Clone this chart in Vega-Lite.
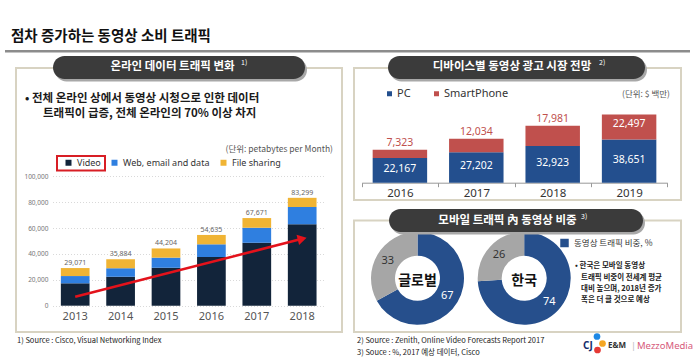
{
  "$schema": "https://vega.github.io/schema/vega-lite/v6.json",
  "width": 700,
  "height": 361,
  "autosize": {"type": "none"},
  "padding": 0,
  "background": "#ffffff",
  "config": {"view": {"stroke": null}, "font": "Noto Sans CJK KR"},
  "datasets": {
    "traffic": [
      {"year": "2013", "type": "Video", "value": 17300},
      {"year": "2013", "type": "Web, email and data", "value": 5600},
      {"year": "2013", "type": "File sharing", "value": 6171},
      {"year": "2014", "type": "Video", "value": 22400},
      {"year": "2014", "type": "Web, email and data", "value": 6500},
      {"year": "2014", "type": "File sharing", "value": 6984},
      {"year": "2015", "type": "Video", "value": 29300},
      {"year": "2015", "type": "Web, email and data", "value": 7800},
      {"year": "2015", "type": "File sharing", "value": 7104},
      {"year": "2016", "type": "Video", "value": 37600},
      {"year": "2016", "type": "Web, email and data", "value": 9800},
      {"year": "2016", "type": "File sharing", "value": 7235},
      {"year": "2017", "type": "Video", "value": 48600},
      {"year": "2017", "type": "Web, email and data", "value": 11600},
      {"year": "2017", "type": "File sharing", "value": 7471},
      {"year": "2018", "type": "Video", "value": 62900},
      {"year": "2018", "type": "Web, email and data", "value": 13300},
      {"year": "2018", "type": "File sharing", "value": 7099}
    ],
    "arrow": [
      {"year": "2013", "value": 6900},
      {"year": "2018", "value": 51650}
    ],
    "adMarket": [
      {"year": "2016", "device": "PC", "value": 22167},
      {"year": "2016", "device": "SmartPhone", "value": 7323},
      {"year": "2017", "device": "PC", "value": 27202},
      {"year": "2017", "device": "SmartPhone", "value": 12034},
      {"year": "2018", "device": "PC", "value": 32923},
      {"year": "2018", "device": "SmartPhone", "value": 17981},
      {"year": "2019", "device": "PC", "value": 38651},
      {"year": "2019", "device": "SmartPhone", "value": 22497}
    ],
    "mobileShare": [
      {"region": "글로벌", "cat": "동영상 트래픽 비중, %", "value": 67},
      {"region": "글로벌", "cat": "기타", "value": 33},
      {"region": "한국", "cat": "동영상 트래픽 비중, %", "value": 74},
      {"region": "한국", "cat": "기타", "value": 26}
    ]
  },
  "layer": [
    {"data": {"values": [{}]}, "mark": {"type": "rect", "x": 16, "x2": 342, "y": 68, "y2": 332, "fill": null, "stroke": "#d8d3c2", "strokeWidth": 2}, "encoding": {}},
    {"data": {"values": [{}]}, "mark": {"type": "rect", "x": 354, "x2": 681, "y": 68, "y2": 200, "fill": null, "stroke": "#d8d3c2", "strokeWidth": 2}, "encoding": {}},
    {"data": {"values": [{}]}, "mark": {"type": "rect", "x": 354, "x2": 681, "y": 220.5, "y2": 332, "fill": null, "stroke": "#d8d3c2", "strokeWidth": 2}, "encoding": {}},
    {"data": {"values": [{}]}, "mark": {"type": "rect", "x": 5, "x2": 690, "y": 50, "y2": 52.5, "fill": "#8c8c8c"}, "encoding": {}},
    {"data": {"values": [{"t": "점차 증가하는 동영상 소비 트래픽"}]}, "mark": {"type": "text", "x": 11, "y": 37, "align": "left", "baseline": "middle", "fontSize": 14.5, "fontWeight": "bold", "color": "#111111"}, "encoding": {"text": {"field": "t"}}},

    {
      "data": {"name": "traffic"},
      "layer": [
        {
          "transform": [{"calculate": "indexof(['Video','Web, email and data','File sharing'], datum.type)", "as": "k"}],
          "mark": {"type": "bar"},
          "encoding": {
            "x": {"field": "year", "type": "ordinal", "title": null,
              "scale": {"range": [52.5, 324.9], "paddingInner": 0.368, "paddingOuter": 0.184},
              "axis": {"orient": "bottom", "offset": -55.3, "zindex": 1, "labelAngle": 0, "domain": false, "ticks": false, "tickSize": 0, "labelPadding": 5, "labelFontSize": 11, "labelColor": "#555555", "labelFont": "Noto Sans"}},
            "y": {"field": "value", "type": "quantitative", "stack": "zero", "title": null,
              "scale": {"domain": [0, 100000], "range": [305.7, 176.2], "nice": false},
              "axis": {"orient": "left", "offset": -50, "values": [0, 20000, 40000, 60000, 80000, 100000], "labelExpr": "format(datum.value, ',')", "domain": false, "ticks": false, "tickSize": 0, "labelPadding": 2, "labelFontSize": 6.5, "labelColor": "#777777", "labelFont": "Noto Sans", "grid": true, "gridColor": "#d9d9d9", "gridDash": [1, 2]}},
            "color": {"field": "type", "type": "nominal",
              "scale": {"domain": ["Video", "Web, email and data", "File sharing"], "range": ["#12243a", "#2f7fe0", "#f0b434"]},
              "legend": {"orient": "none", "legendX": 64, "legendY": 158, "direction": "horizontal", "title": null, "symbolType": "square", "symbolSize": 36, "symbolStrokeWidth": 0, "labelFontSize": 9, "labelColor": "#333333", "labelFont": "Noto Sans", "labelOffset": 4, "columnPadding": 9, "padding": 0}},
            "order": {"field": "k", "type": "quantitative"}
          }
        },
        {
          "mark": {"type": "text", "baseline": "alphabetic", "dy": -3, "fontSize": 7, "color": "#666666", "font": "Noto Sans"},
          "encoding": {
            "x": {"field": "year", "type": "ordinal", "title": null},
            "y": {"aggregate": "sum", "field": "value", "type": "quantitative", "title": null},
            "text": {"aggregate": "sum", "field": "value", "type": "quantitative", "format": ","}
          }
        },
        {
          "data": {"name": "arrow"},
          "mark": {"type": "line", "color": "#e3121b", "strokeWidth": 2.5},
          "encoding": {
            "x": {"field": "year", "type": "ordinal", "title": null},
            "y": {"field": "value", "type": "quantitative", "title": null}
          }
        },
        {
          "data": {"name": "arrow"},
          "transform": [{"filter": "datum.year === '2018'"}],
          "mark": {"type": "point", "shape": "triangle-right", "filled": true, "color": "#e3121b", "size": 110, "angle": 345.7, "opacity": 1},
          "encoding": {
            "x": {"field": "year", "type": "ordinal", "title": null},
            "y": {"field": "value", "type": "quantitative", "title": null}
          }
        }
      ]
    },

    {
      "data": {"name": "adMarket"},
      "encoding": {
        "x": {"field": "year", "type": "ordinal", "title": null,
          "scale": {"range": [361.7, 667.3], "paddingInner": 0, "paddingOuter": 0},
          "axis": {"orient": "bottom", "offset": -178.3, "labelAngle": 0, "tickBand": "extent", "tickSize": 4, "tickColor": "#999999", "domainColor": "#999999", "labelPadding": 1, "labelFontSize": 11.5, "labelColor": "#333333", "labelFont": "Noto Sans"}}
      },
      "layer": [
        {
          "mark": {"type": "bar", "width": {"band": 0.713}},
          "encoding": {
            "y": {"field": "value", "type": "quantitative", "stack": "zero", "title": null,
              "scale": {"domain": [0, 70000], "range": [182.7, 104.5], "nice": false}, "axis": null},
            "color": {"field": "device", "type": "nominal",
              "scale": {"domain": ["PC", "SmartPhone"], "range": ["#234f8e", "#c0504d"]},
              "legend": {"orient": "none", "legendX": 384, "legendY": 88, "direction": "horizontal", "title": null, "symbolType": "square", "symbolSize": 25, "symbolStrokeWidth": 0, "labelFontSize": 11, "labelColor": "#333333", "labelFont": "Noto Sans", "labelOffset": 2, "columnPadding": 20, "padding": 0}},
            "order": {"field": "device", "sort": "ascending"}
          }
        },
        {
          "transform": [{"filter": "datum.device === 'PC'"}],
          "mark": {"type": "text", "color": "#ffffff", "fontSize": 10.5, "font": "Noto Sans", "baseline": "middle", "dy": -1.5},
          "encoding": {
            "y": {"field": "value", "type": "quantitative", "stack": "zero", "bandPosition": 0.5, "title": null},
            "text": {"field": "value", "type": "quantitative", "format": ","}
          }
        },
        {
          "transform": [
            {"stack": "value", "groupby": ["year"], "sort": [{"field": "device", "order": "ascending"}], "as": ["v0", "v1"]},
            {"filter": "datum.device === 'SmartPhone' && datum.year !== '2019'"}
          ],
          "mark": {"type": "text", "color": "#c0504d", "fontSize": 10.5, "font": "Noto Sans", "baseline": "alphabetic", "dy": -4},
          "encoding": {
            "y": {"field": "v1", "type": "quantitative", "title": null},
            "text": {"field": "value", "type": "quantitative", "format": ","}
          }
        },
        {
          "transform": [
            {"stack": "value", "groupby": ["year"], "sort": [{"field": "device", "order": "ascending"}], "as": ["v0", "v1"]},
            {"filter": "datum.device === 'SmartPhone' && datum.year === '2019'"}
          ],
          "mark": {"type": "text", "color": "#ffffff", "fontSize": 10.5, "font": "Noto Sans", "baseline": "alphabetic", "dy": 13},
          "encoding": {
            "y": {"field": "v1", "type": "quantitative", "title": null},
            "text": {"field": "value", "type": "quantitative", "format": ","}
          }
        }
      ]
    },

    {
      "data": {"name": "mobileShare"},
      "encoding": {
        "x": {"field": "region", "type": "nominal", "scale": {"type": "point", "domain": ["글로벌", "한국"], "range": [417.5, 524.2], "padding": 0}, "axis": null},
        "y": {"field": "region", "type": "nominal", "scale": {"type": "point", "domain": ["글로벌", "한국"], "range": [278.3, 278.3], "padding": 0}, "axis": null}
      },
      "layer": [
        {
          "transform": [{"filter": "datum.region === '글로벌'"}],
          "encoding": {
            "theta": {"field": "value", "type": "quantitative", "stack": true},
            "order": {"field": "cat", "sort": "descending"}
          },
          "layer": [
            {"mark": {"type": "arc", "radius": 46.5, "innerRadius": 22.5},
             "encoding": {"color": {"field": "cat", "type": "nominal",
               "scale": {"domain": ["동영상 트래픽 비중, %", "기타"], "range": ["#264f8c", "#a6a6a6"]},
               "legend": {"orient": "none", "legendX": 560, "legendY": 238.5, "values": ["동영상 트래픽 비중, %"], "title": null, "symbolType": "square", "symbolSize": 72, "symbolStrokeWidth": 0, "labelFontSize": 8.5, "labelColor": "#333333", "labelOffset": 5, "padding": 0}}}},
            {"mark": {"type": "text", "radius": 34.5, "fontSize": 11, "font": "Noto Sans"},
             "encoding": {"text": {"field": "value", "type": "quantitative"},
               "color": {"condition": {"test": "datum.cat === '기타'", "value": "#333333"}, "value": "#ffffff"}}}
          ]
        },
        {
          "transform": [{"filter": "datum.region === '한국'"}],
          "encoding": {
            "theta": {"field": "value", "type": "quantitative", "stack": true},
            "order": {"field": "cat", "sort": "descending"}
          },
          "layer": [
            {"mark": {"type": "arc", "radius": 46.5, "innerRadius": 22.5},
             "encoding": {"color": {"field": "cat", "type": "nominal",
               "scale": {"domain": ["동영상 트래픽 비중, %", "기타"], "range": ["#264f8c", "#a6a6a6"]},
               "legend": {"orient": "none", "legendX": 560, "legendY": 238.5, "values": ["동영상 트래픽 비중, %"], "title": null, "symbolType": "square", "symbolSize": 72, "symbolStrokeWidth": 0, "labelFontSize": 8.5, "labelColor": "#333333", "labelOffset": 5, "padding": 0}}}},
            {"mark": {"type": "text", "radius": 34.5, "fontSize": 11, "font": "Noto Sans"},
             "encoding": {"text": {"field": "value", "type": "quantitative"},
               "color": {"condition": {"test": "datum.cat === '기타'", "value": "#333333"}, "value": "#ffffff"}}}
          ]
        },
        {
          "transform": [{"filter": "datum.cat === '기타'"}],
          "mark": {"type": "text", "fontSize": 14, "fontWeight": "bold", "dy": 3, "color": "#111111"},
          "encoding": {"text": {"field": "region", "type": "nominal"}}
        }
      ]
    },

    {"data": {"values": [{"t": "• 전체 온라인 상에서 동영상 시청으로 인한 데이터"}]}, "mark": {"type": "text", "x": 25, "y": 99.3, "align": "left", "baseline": "middle", "fontSize": 11.5, "fontWeight": "bold", "color": "#1a1a1a"}, "encoding": {"text": {"field": "t"}}},
    {"data": {"values": [{"t": "트래픽이 급증, 전체 온라인의 70% 이상  차지"}]}, "mark": {"type": "text", "x": 43, "y": 113.7, "align": "left", "baseline": "middle", "fontSize": 11.5, "fontWeight": "bold", "color": "#1a1a1a"}, "encoding": {"text": {"field": "t"}}},
    {"data": {"values": [{"t": "(단위: petabytes per Month)"}]}, "mark": {"type": "text", "x": 333, "y": 149.3, "align": "right", "baseline": "middle", "fontSize": 8.5, "color": "#555555"}, "encoding": {"text": {"field": "t"}}},
    {"data": {"values": [{"t": "(단위: $ 백만)"}]}, "mark": {"type": "text", "x": 670, "y": 94.3, "align": "right", "baseline": "middle", "fontSize": 8.5, "color": "#555555"}, "encoding": {"text": {"field": "t"}}},
    {"data": {"values": [{}]}, "mark": {"type": "rect", "x": 57, "x2": 105, "y": 156, "y2": 170.5, "fill": null, "stroke": "#d81e25", "strokeWidth": 2}, "encoding": {}},

    {"data": {"values": [{"t": "• 한국은 모바일  동영상"}]}, "mark": {"type": "text", "x": 575, "y": 265.7, "align": "left", "baseline": "middle", "fontSize": 7.5, "fontWeight": "bold", "color": "#222222"}, "encoding": {"text": {"field": "t"}}},
    {"data": {"values": [{"t": "트래픽 비중이 전세계 평균\n대비  높으며, 2018년 증가\n폭은 더 클 것으로 예상"}]}, "mark": {"type": "text", "x": 581, "y": 280, "align": "left", "baseline": "alphabetic", "lineBreak": "\n", "lineHeight": 11, "fontSize": 7.5, "fontWeight": "bold", "color": "#222222"}, "encoding": {"text": {"field": "t"}}},

    {"data": {"values": [{"t": "1) Source : Cisco, Visual Networking Index"}]}, "mark": {"type": "text", "x": 17, "y": 341, "align": "left", "baseline": "middle", "fontSize": 7.5, "color": "#222222"}, "encoding": {"text": {"field": "t"}}},
    {"data": {"values": [{"t": "2) Source : Zenith, Online Video Forecasts Report 2017"}]}, "mark": {"type": "text", "x": 357, "y": 341, "align": "left", "baseline": "middle", "fontSize": 7.5, "color": "#222222"}, "encoding": {"text": {"field": "t"}}},
    {"data": {"values": [{"t": "3) Souce : %, 2017 예상 데이터, Cisco"}]}, "mark": {"type": "text", "x": 357, "y": 352.5, "align": "left", "baseline": "middle", "fontSize": 7.5, "color": "#222222"}, "encoding": {"text": {"field": "t"}}},

    {"data": {"values": [{"t": "CJ"}]}, "mark": {"type": "text", "x": 583, "y": 346, "align": "left", "baseline": "middle", "fontSize": 10, "fontWeight": "bold", "color": "#142d6b", "font": "Noto Sans"}, "encoding": {"text": {"field": "t"}}},
    {"data": {"values": [{}]}, "mark": {"type": "point", "x": 597, "y": 336.5, "filled": true, "size": 45, "color": "#1e88e5", "opacity": 1}, "encoding": {}},
    {"data": {"values": [{}]}, "mark": {"type": "point", "x": 602.5, "y": 343.5, "filled": true, "size": 45, "color": "#f5a623", "opacity": 1}, "encoding": {}},
    {"data": {"values": [{}]}, "mark": {"type": "point", "x": 597.5, "y": 350, "filled": true, "size": 45, "color": "#e53935", "opacity": 1}, "encoding": {}},
    {"data": {"values": [{"t": "E&M"}]}, "mark": {"type": "text", "x": 608, "y": 346, "align": "left", "baseline": "middle", "fontSize": 8, "fontWeight": "bold", "color": "#333333", "font": "Noto Sans"}, "encoding": {"text": {"field": "t"}}},
    {"data": {"values": [{"t": "|"}]}, "mark": {"type": "text", "x": 631, "y": 346, "align": "left", "baseline": "middle", "fontSize": 9, "color": "#bbbbbb", "font": "Noto Sans"}, "encoding": {"text": {"field": "t"}}},
    {"data": {"values": [{"t": "MezzoMedia"}]}, "mark": {"type": "text", "x": 637, "y": 346, "align": "left", "baseline": "middle", "fontSize": 9.5, "color": "#d65a7b", "font": "Noto Sans"}, "encoding": {"text": {"field": "t"}}},

    {"data": {"values": [{}]}, "mark": {"type": "rect", "x": 55, "x2": 307, "y": 58.5, "y2": 81.5, "cornerRadius": 11.5, "fill": "#a8a8a8"}, "encoding": {}},
    {"data": {"values": [{}]}, "mark": {"type": "rect", "x": 53, "x2": 305, "y": 56, "y2": 79, "cornerRadius": 11.5, "fill": "#3b3b3b"}, "encoding": {}},
    {"data": {"values": [{}]}, "mark": {"type": "rect", "x": 390, "x2": 647, "y": 58.5, "y2": 81.5, "cornerRadius": 11.5, "fill": "#a8a8a8"}, "encoding": {}},
    {"data": {"values": [{}]}, "mark": {"type": "rect", "x": 388, "x2": 645, "y": 56, "y2": 79, "cornerRadius": 11.5, "fill": "#3b3b3b"}, "encoding": {}},
    {"data": {"values": [{}]}, "mark": {"type": "rect", "x": 391, "x2": 645, "y": 211.5, "y2": 234.5, "cornerRadius": 11.5, "fill": "#a8a8a8"}, "encoding": {}},
    {"data": {"values": [{}]}, "mark": {"type": "rect", "x": 389, "x2": 643, "y": 209, "y2": 232, "cornerRadius": 11.5, "fill": "#3b3b3b"}, "encoding": {}},

    {"data": {"values": [{"t": "온라인 데이터 트래픽 변화"}]}, "mark": {"type": "text", "x": 172.5, "y": 67, "align": "center", "baseline": "middle", "fontSize": 11.5, "fontWeight": "bold", "color": "#ffffff"}, "encoding": {"text": {"field": "t"}}},
    {"data": {"values": [{"t": "1)"}]}, "mark": {"type": "text", "x": 241, "y": 63, "align": "left", "baseline": "middle", "fontSize": 7, "color": "#ffffff"}, "encoding": {"text": {"field": "t"}}},
    {"data": {"values": [{"t": "디바이스별 동영상 광고 시장 전망"}]}, "mark": {"type": "text", "x": 512, "y": 67, "align": "center", "baseline": "middle", "fontSize": 11.5, "fontWeight": "bold", "color": "#ffffff"}, "encoding": {"text": {"field": "t"}}},
    {"data": {"values": [{"t": "2)"}]}, "mark": {"type": "text", "x": 599, "y": 63, "align": "left", "baseline": "middle", "fontSize": 7, "color": "#ffffff"}, "encoding": {"text": {"field": "t"}}},
    {"data": {"values": [{"t": "모바일 트래픽 內 동영상 비중"}]}, "mark": {"type": "text", "x": 507.5, "y": 220.5, "align": "center", "baseline": "middle", "fontSize": 11.5, "fontWeight": "bold", "color": "#ffffff"}, "encoding": {"text": {"field": "t"}}},
    {"data": {"values": [{"t": "3)"}]}, "mark": {"type": "text", "x": 581, "y": 216.5, "align": "left", "baseline": "middle", "fontSize": 7, "color": "#ffffff"}, "encoding": {"text": {"field": "t"}}}
  ],
  "resolve": {
    "scale": {"x": "independent", "y": "independent", "color": "independent", "theta": "independent"},
    "axis": {"x": "independent", "y": "independent"},
    "legend": {"color": "independent"}
  }
}
